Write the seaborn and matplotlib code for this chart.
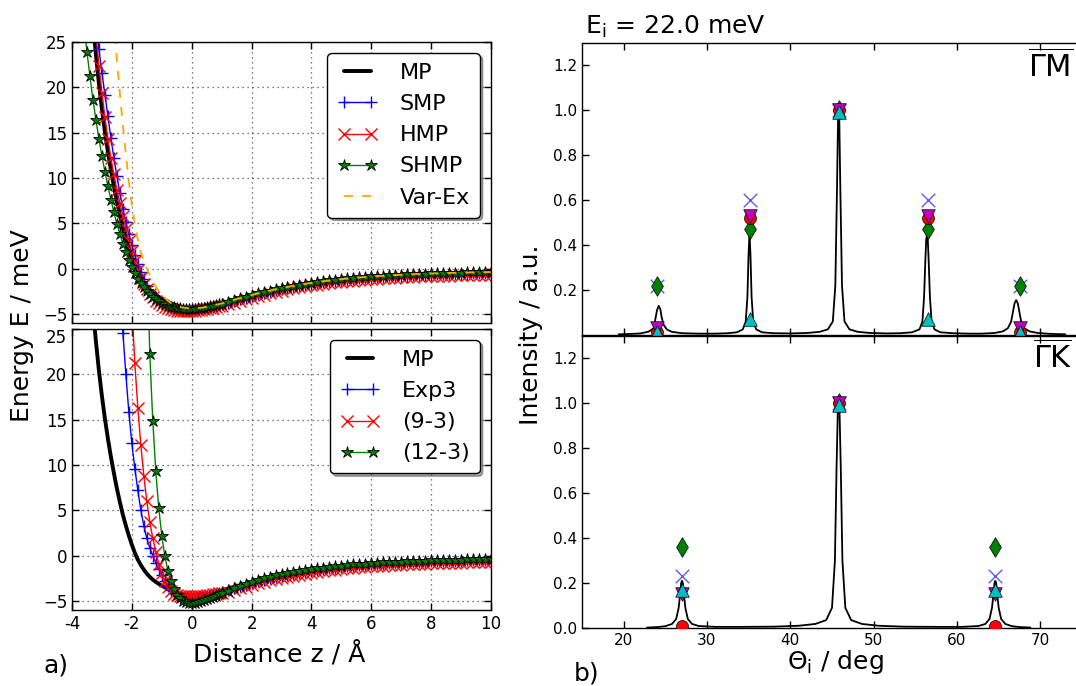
import numpy as np
import matplotlib
matplotlib.use("Agg")
import matplotlib.pyplot as plt
import seaborn as sns

NA = float("nan")

# ---------------- data: left panels (interaction potentials) ----------------
Z_STEEP = np.round(np.arange(-3.6, 1.05, 0.1), 1)   # -3.6 ... 1.0
Z_TAIL = np.round(np.arange(1.2, 10.05, 0.2), 1)    # 1.2 ... 10.0

MP_STEEP = [42.0, 36.5, 31.5, 27.2, 23.6, 20.4, 17.6, 15.1, 12.9, 10.9,
            9.1, 7.4, 5.9, 4.5, 3.3, 2.2, 1.2, 0.3, -0.45, -1.05,
            -1.55, -1.98, -2.35, -2.65, -2.9, -3.12, -3.32, -3.5, -3.66, -3.81,
            -3.95, -4.07, -4.17, -4.26, -4.32, -4.37, -4.4, -4.4, -4.38, -4.35,
            -4.3, -4.24, -4.17, -4.1, -4.02, -3.93, -3.85]
MP_TAIL = [-3.66, -3.47, -3.28, -3.1, -2.92, -2.75, -2.59, -2.44, -2.3, -2.16,
           -2.03, -1.91, -1.8, -1.69, -1.59, -1.5, -1.41, -1.33, -1.25, -1.18,
           -1.11, -1.05, -0.99, -0.94, -0.89, -0.84, -0.8, -0.76, -0.72, -0.69,
           -0.66, -0.63, -0.6, -0.58, -0.55, -0.53, -0.51, -0.49, -0.47, -0.46,
           -0.44, -0.43, -0.41, -0.4, -0.39]

SMP_STEEP = [41.3, 37.3, 33.6, 30.2, 27.0, 24.2, 21.6, 19.2, 16.8, 14.4,
             12.2, 10.2, 8.3, 6.6, 5.1, 3.8, 2.6, 1.5, 0.5, -0.4,
             -1.2, -1.9, -2.45, -2.92, -3.3, -3.62, -3.87, -4.06, -4.21, -4.33,
             -4.41, -4.47, -4.51, -4.53, -4.54, -4.54, -4.52, -4.5, -4.47, -4.43,
             -4.38, -4.32, -4.25, -4.18, -4.1, -4.02, -3.94]
SMP_TAIL = [-3.76, -3.57, -3.38, -3.2, -3.02, -2.85, -2.69, -2.54, -2.4, -2.26,
            -2.13, -2.01, -1.9, -1.79, -1.69, -1.6, -1.51, -1.43, -1.35, -1.28,
            -1.21, -1.15, -1.09, -1.04, -0.99, -0.94, -0.9, -0.86, -0.82, -0.79,
            -0.76, -0.73, -0.7, -0.68, -0.65, -0.63, -0.61, -0.59, -0.57, -0.56,
            -0.54, -0.53, -0.51, -0.5, -0.49]

HMP_STEEP = [45.0, 39.5, 34.5, 30.0, 25.8, 22.4, 19.4, 16.7, 14.3, 12.2,
             10.4, 8.7, 7.2, 5.8, 4.4, 3.1, 1.9, 0.8, -0.2, -1.05,
             -1.75, -2.3, -2.78, -3.18, -3.52, -3.8, -4.04, -4.24, -4.39, -4.5,
             -4.58, -4.63, -4.66, -4.68, -4.68, -4.67, -4.65, -4.63, -4.6, -4.56,
             -4.51, -4.45, -4.39, -4.32, -4.25, -4.17, -4.09]
HMP_TAIL = [-3.93, -3.74, -3.55, -3.37, -3.19, -3.02, -2.86, -2.71, -2.57, -2.43,
            -2.3, -2.18, -2.07, -1.96, -1.86, -1.77, -1.68, -1.6, -1.52, -1.45,
            -1.38, -1.32, -1.26, -1.21, -1.16, -1.11, -1.07, -1.03, -0.99, -0.96,
            -0.93, -0.9, -0.87, -0.85, -0.82, -0.8, -0.78, -0.76, -0.74, -0.73,
            -0.71, -0.7, -0.68, -0.67, -0.66]

SHMP_STEEP = [27.0, 23.9, 21.2, 18.6, 16.4, 14.3, 12.4, 10.7, 9.1, 7.6,
              6.2, 4.95, 3.8, 2.75, 1.8, 0.95, 0.2, -0.5, -1.1, -1.6,
              -2.05, -2.45, -2.8, -3.1, -3.35, -3.58, -3.78, -3.95, -4.08, -4.19,
              -4.28, -4.35, -4.4, -4.43, -4.45, -4.45, -4.44, -4.42, -4.39, -4.35,
              -4.3, -4.24, -4.17, -4.1, -4.02, -3.94, -3.86]
SHMP_TAIL = [-3.64, -3.45, -3.26, -3.08, -2.9, -2.73, -2.57, -2.42, -2.28, -2.14,
             -2.01, -1.89, -1.78, -1.67, -1.57, -1.48, -1.39, -1.31, -1.23, -1.16,
             -1.09, -1.03, -0.97, -0.92, -0.87, -0.82, -0.78, -0.74, -0.7, -0.67,
             -0.64, -0.61, -0.58, -0.56, -0.53, -0.51, -0.49, -0.47, -0.45, -0.44,
             -0.42, -0.41, -0.39, -0.38, -0.37]

VAREX_STEEP = [NA, NA, NA, NA, NA, NA, NA, NA, 37.0, 32.0,
               27.5, 23.0, 19.3, 15.8, 12.6, 9.6, 7.0, 4.9, 3.2, 1.8,
               0.8, 0.0, -0.7, -1.4, -2.0, -2.5, -2.9, -3.25, -3.55, -3.78,
               -3.97, -4.11, -4.21, -4.29, -4.34, -4.37, -4.38, -4.38, -4.36, -4.32,
               -4.27, -4.21, -4.15, -4.08, -4.0, -3.92, -3.84]
VAREX_TAIL = [-3.65, -3.46, -3.27, -3.09, -2.91, -2.74, -2.58, -2.43, -2.29, -2.15,
              -2.02, -1.9, -1.79, -1.68, -1.58, -1.49, -1.4, -1.32, -1.24, -1.17,
              -1.1, -1.04, -0.98, -0.93, -0.88, -0.83, -0.79, -0.75, -0.71, -0.68,
              -0.65, -0.62, -0.59, -0.57, -0.54, -0.52, -0.5, -0.48, -0.46, -0.45,
              -0.43, -0.42, -0.4, -0.39, -0.38]

EXP3_STEEP = [NA, NA, NA, NA, NA, NA, NA, NA, NA, NA,
              NA, 40.0, 29.5, 24.6, 20.0, 15.8, 12.4, 9.6, 7.2, 5.0,
              3.3, 1.9, 0.85, 0.0, -0.8, -1.5, -2.15, -2.75, -3.3, -3.78,
              -4.15, -4.45, -4.65, -4.76, -4.8, -4.8, -4.78, -4.74, -4.69, -4.62,
              -4.54, -4.46, -4.37, -4.28, -4.18, -4.08, -3.98]
EXP3_TAIL = [-3.82, -3.6, -3.39, -3.19, -3.0, -2.83, -2.67, -2.52, -2.38, -2.24,
             -2.11, -1.99, -1.88, -1.77, -1.67, -1.58, -1.49, -1.41, -1.33, -1.26,
             -1.19, -1.13, -1.07, -1.02, -0.97, -0.92, -0.88, -0.84, -0.8, -0.77,
             -0.74, -0.71, -0.68, -0.66, -0.63, -0.61, -0.59, -0.57, -0.55, -0.54,
             -0.52, -0.51, -0.49, -0.48, -0.47]

NINE3_STEEP = [NA, NA, NA, NA, NA, NA, NA, NA, NA, NA,
               NA, NA, NA, NA, NA, 38.0, 27.5, 21.2, 16.3, 12.2,
               8.8, 6.0, 3.7, 1.9, 0.4, -0.9, -1.95, -2.8, -3.45, -3.9,
               -4.18, -4.34, -4.42, -4.47, -4.49, -4.5, -4.5, -4.49, -4.47, -4.44,
               -4.41, -4.37, -4.32, -4.27, -4.21, -4.15, -4.09]
NINE3_TAIL = [-3.96, -3.78, -3.59, -3.41, -3.23, -3.06, -2.9, -2.74, -2.6, -2.46,
              -2.33, -2.21, -2.1, -1.99, -1.89, -1.8, -1.71, -1.63, -1.55, -1.48,
              -1.41, -1.35, -1.29, -1.24, -1.19, -1.14, -1.1, -1.06, -1.02, -0.99,
              -0.96, -0.93, -0.9, -0.88, -0.85, -0.83, -0.81, -0.79, -0.77, -0.76,
              -0.74, -0.73, -0.71, -0.7, -0.69]

TWELVE3_STEEP = [NA, NA, NA, NA, NA, NA, NA, NA, NA, NA,
                 NA, NA, NA, NA, NA, NA, NA, NA, NA, NA,
                 48.0, 34.0, 22.2, 14.8, 9.3, 5.2, 2.2, 0.0, -1.65, -2.85,
                 -3.7, -4.3, -4.7, -4.98, -5.15, -5.23, -5.25, -5.22, -5.15, -5.06,
                 -4.95, -4.83, -4.7, -4.57, -4.43, -4.29, -4.15]
TWELVE3_TAIL = [-3.85, -3.58, -3.33, -3.1, -2.88, -2.68, -2.5, -2.33, -2.18, -2.04,
                -1.91, -1.79, -1.68, -1.58, -1.48, -1.4, -1.32, -1.24, -1.17, -1.1,
                -1.04, -0.98, -0.93, -0.88, -0.83, -0.79, -0.75, -0.71, -0.68, -0.65,
                -0.62, -0.59, -0.56, -0.54, -0.52, -0.5, -0.48, -0.46, -0.44, -0.43,
                -0.41, -0.4, -0.39, -0.37, -0.36]

Z_TICKS = [-4, -2, 0, 2, 4, 6, 8, 10]
Z_TICKLABELS = ["-4", "-2", "0", "2", "4", "6", "8", "10"]
E_TICKS = [-5, 0, 5, 10, 15, 20, 25]

# ---------------- data: right panels (diffraction intensities) ----------------
GM_THETA = [19.4, 21.0, 22.0, 23.0, 23.6, 23.85, 24.0, 24.2, 24.4, 24.55,
            24.8, 25.2, 25.8, 27.0, 29.0, 31.0, 32.5, 33.6, 34.3, 34.65,
            34.85, 34.98, 35.1, 35.22, 35.35, 35.55, 35.9, 36.6, 38.0, 40.0,
            42.0, 43.5, 44.5, 45.1, 45.4, 45.6, 45.72, 45.8, 45.88, 46.0,
            46.2, 46.5, 47.1, 48.1, 49.6, 51.6, 53.2, 54.6, 55.5, 55.85,
            56.05, 56.2, 56.3, 56.4, 56.5, 56.6, 56.75, 56.95, 57.3, 58.0,
            59.5, 61.5, 63.0, 64.5, 65.5, 66.1, 66.5, 66.75, 66.9, 67.1,
            67.3, 67.45, 67.7, 68.1, 68.7, 69.7, 71.2, 73.0]
GM_INT = [0.003, 0.005, 0.007, 0.015, 0.03, 0.08, 0.11, 0.13, 0.115, 0.08,
          0.045, 0.024, 0.014, 0.008, 0.006, 0.006, 0.008, 0.012, 0.025, 0.06,
          0.17, 0.35, 0.46, 0.35, 0.17, 0.06, 0.025, 0.012, 0.008, 0.007,
          0.009, 0.014, 0.025, 0.06, 0.22, 0.65, 0.95, 1.0, 0.95, 0.65,
          0.22, 0.06, 0.025, 0.014, 0.009, 0.007, 0.008, 0.012, 0.025, 0.06,
          0.17, 0.33, 0.42, 0.45, 0.42, 0.33, 0.17, 0.06, 0.025, 0.012,
          0.008, 0.006, 0.006, 0.009, 0.016, 0.03, 0.06, 0.11, 0.14, 0.155,
          0.14, 0.11, 0.06, 0.03, 0.016, 0.009, 0.005, 0.003]

GK_THETA = [22.8, 24.0, 25.0, 25.8, 26.3, 26.6, 26.8, 26.9, 27.0, 27.1,
            27.2, 27.4, 27.7, 28.2, 29.0, 31.0, 34.0, 38.0, 41.0, 43.0,
            44.3, 45.0, 45.35, 45.55, 45.7, 45.8, 45.9, 46.05, 46.25, 46.6,
            47.3, 48.6, 50.6, 53.6, 57.6, 60.6, 62.6, 63.4, 63.9, 64.2,
            64.4, 64.5, 64.6, 64.7, 64.8, 65.0, 65.3, 65.8, 66.6, 67.6,
            68.8]
GK_INT = [0.002, 0.004, 0.008, 0.018, 0.04, 0.09, 0.16, 0.2, 0.21, 0.2,
          0.16, 0.09, 0.04, 0.018, 0.009, 0.005, 0.005, 0.006, 0.01, 0.018,
          0.035, 0.09, 0.3, 0.72, 0.97, 1.0, 0.97, 0.72, 0.3, 0.09,
          0.035, 0.018, 0.01, 0.006, 0.005, 0.005, 0.009, 0.018, 0.04, 0.09,
          0.16, 0.2, 0.21, 0.2, 0.16, 0.09, 0.04, 0.018, 0.008, 0.004,
          0.002]

PEAKS_GM = [24.0, 35.1, 45.8, 56.5, 67.5]
X_GM = [0.22, 0.60, 1.0, 0.60, 0.22]
D_GM = [0.22, 0.47, 1.0, 0.47, 0.22]
O_GM = [0.015, 0.52, 1.0, 0.52, 0.015]
V_GM = [0.03, 0.53, 1.0, 0.53, 0.03]
T_GM = [0.015, 0.07, 0.99, 0.07, 0.015]

PEAKS_GK = [27.0, 45.8, 64.6]
X_GK = [0.23, 1.0, 0.23]
D_GK = [0.36, 1.0, 0.36]
O_GK = [0.01, 1.0, 0.01]
V_GK = [0.15, 1.0, 0.15]
T_GK = [0.17, 0.99, 0.17]

THETA_TICKS = [20, 30, 40, 50, 60, 70]

# ---------------- style ----------------
sns.set_style("ticks", {"axes.edgecolor": "black", "text.color": "black",
                        "xtick.color": "black", "ytick.color": "black",
                        "axes.labelcolor": "black"})
plt.rcParams["font.family"] = ["DejaVu Sans"]
plt.rcParams["mathtext.fontset"] = "dejavusans"
plt.rcParams["axes.linewidth"] = 1.0

W, H = 1076.0, 686.0
fig = plt.figure(figsize=(W / 100, H / 100), dpi=100)


def rect(x0, y0, x1, y1):
    return [x0 / W, 1 - y1 / H, (x1 - x0) / W, (y1 - y0) / H]


ax1 = fig.add_axes(rect(72, 42, 491, 323))
ax2 = fig.add_axes(rect(72, 329, 491, 610))
ax3 = fig.add_axes(rect(582, 42.7, 1082, 335))
ax4 = fig.add_axes(rect(582, 335.7, 1082, 628))


def curve(ax, steep, tail, **kw):
    z = np.concatenate([Z_STEEP, Z_TAIL])
    e = np.asarray(list(steep) + list(tail), dtype=float)
    n = min(len(z), len(e))
    sns.lineplot(x=z[:n], y=e[:n], ax=ax, sort=False, estimator=None, **kw)


MP_STYLE = dict(color="black", linewidth=2.8)
BLUE = dict(color="blue", linewidth=1.0, marker="+", markersize=9,
            markeredgewidth=1.0, markeredgecolor="blue")
RED = dict(color="red", linewidth=1.0, marker="x", markersize=8,
           markeredgewidth=1.0, markeredgecolor="red")
GREEN = dict(color="green", linewidth=1.0, marker="*", markersize=9,
             markerfacecolor="green", markeredgecolor="black",
             markeredgewidth=0.6)

# top-left
curve(ax1, MP_STEEP, MP_TAIL, label="MP", **MP_STYLE)
curve(ax1, SMP_STEEP, SMP_TAIL, label="SMP", **BLUE)
curve(ax1, HMP_STEEP, HMP_TAIL, label="HMP", **RED)
curve(ax1, SHMP_STEEP, SHMP_TAIL, label="SHMP", **GREEN)
curve(ax1, VAREX_STEEP, VAREX_TAIL, label="Var-Ex", color="orange",
      linewidth=1.3, linestyle=(0, (5, 5)))

# bottom-left
curve(ax2, MP_STEEP, MP_TAIL, label="MP", **MP_STYLE)
curve(ax2, EXP3_STEEP, EXP3_TAIL, label="Exp3", **BLUE)
curve(ax2, NINE3_STEEP, NINE3_TAIL, label="(9-3)", **RED)
curve(ax2, TWELVE3_STEEP, TWELVE3_TAIL, label="(12-3)", **GREEN)

for ax in (ax1, ax2):
    ax.set_xlim(-4, 10)
    ax.set_ylim(-6, 25)
    ax.set_xticks(Z_TICKS)
    ax.set_yticks(E_TICKS)
    ax.grid(True, linestyle=(0, (1, 3)), color="0.3", linewidth=0.9)
    ax.tick_params(direction="in", top=True, right=True, length=5, width=1,
                   labelsize=12)
    ax.set_xlabel("")
    ax.set_ylabel("")
    leg = ax.legend(loc="upper right", fontsize=16, numpoints=2,
                    handlelength=1.8, handletextpad=1.0, labelspacing=0.5,
                    borderpad=0.45, fancybox=True, shadow=True,
                    framealpha=1.0, edgecolor="black")
    leg.get_frame().set_linewidth(1.0)
ax1.tick_params(labelbottom=False)
ax2.set_xticklabels(Z_TICKLABELS)
# the "25" label of the lower panel sits just below its tick, as in the original
ax2.yaxis.get_major_ticks()[-1].label1.set_verticalalignment("top")

# right panels


def spectrum(ax, th, inten, peaks, xs, ds, os_, vs, ts):
    sns.lineplot(x=np.asarray(th, float), y=np.asarray(inten, float), ax=ax,
                 sort=False, estimator=None, color="black", linewidth=1.3)
    sns.scatterplot(x=peaks, y=xs, ax=ax, marker="x", s=95, color="#5a5aff",
                    linewidth=1.0, zorder=3)
    sns.scatterplot(x=peaks, y=ds, ax=ax, marker="d", s=100, color="green",
                    edgecolor="black", linewidth=0.5, zorder=3)
    sns.scatterplot(x=peaks, y=os_, ax=ax, marker="o", s=75, color="red",
                    edgecolor="black", linewidth=0.5, zorder=3)
    sns.scatterplot(x=peaks, y=vs, ax=ax, marker="v", s=95, color="#bf00bf",
                    edgecolor="black", linewidth=0.5, zorder=3)
    sns.scatterplot(x=peaks, y=ts, ax=ax, marker="^", s=95, color="#00bfbf",
                    edgecolor="black", linewidth=0.5, zorder=3)
    ax.set_xlim(15, 75)
    ax.set_ylim(0, 1.3)
    ax.set_xticks(THETA_TICKS)
    ax.tick_params(direction="in", top=True, right=False, length=5, width=1,
                   labelsize=11)
    ax.set_xlabel("")
    ax.set_ylabel("")


spectrum(ax3, GM_THETA, GM_INT, PEAKS_GM, X_GM, D_GM, O_GM, V_GM, T_GM)
spectrum(ax4, GK_THETA, GK_INT, PEAKS_GK, X_GK, D_GK, O_GK, V_GK, T_GK)
ax3.set_yticks([0.2, 0.4, 0.6, 0.8, 1.0, 1.2])
ax3.set_yticklabels(["0.2", "0.4", "0.6", "0.8", "1.0", "1.2"])
ax3.tick_params(labelbottom=False)
ax4.set_yticks([0.0, 0.2, 0.4, 0.6, 0.8, 1.0, 1.2])
ax4.set_yticklabels(["0.0", "0.2", "0.4", "0.6", "0.8", "1.0", "1.2"])

# texts
fig.text(22 / W, 1 - 326 / H, "Energy E / meV", rotation=90, fontsize=18,
         ha="center", va="center")
fig.text(279 / W, 1 - 654 / H, "Distance z / Å", fontsize=18,
         ha="center", va="center")
fig.text(56 / W, 1 - 666 / H, "a)", fontsize=18, ha="center", va="center")
fig.text(531 / W, 1 - 335 / H, "Intensity / a.u.", rotation=90, fontsize=18,
         ha="center", va="center")
fig.text(835 / W, 1 - 662 / H, r"$\Theta_\mathrm{i}$ / deg", fontsize=18,
         ha="center", va="center")
fig.text(587 / W, 1 - 674 / H, "b)", fontsize=18, ha="center", va="center")
fig.text(585 / W, 1 - 34 / H, r"E$_\mathrm{i}$ = 22.0 meV", fontsize=18,
         ha="left", va="baseline")
fig.text(1073 / W, 1 - 49 / H, r"$\overline{\Gamma\mathrm{M}}$", fontsize=22,
         ha="right", va="top")
fig.text(1073 / W, 1 - 340 / H, r"$\overline{\Gamma\mathrm{K}}$", fontsize=22,
         ha="right", va="top")

fig.savefig("out.png", dpi=100)
